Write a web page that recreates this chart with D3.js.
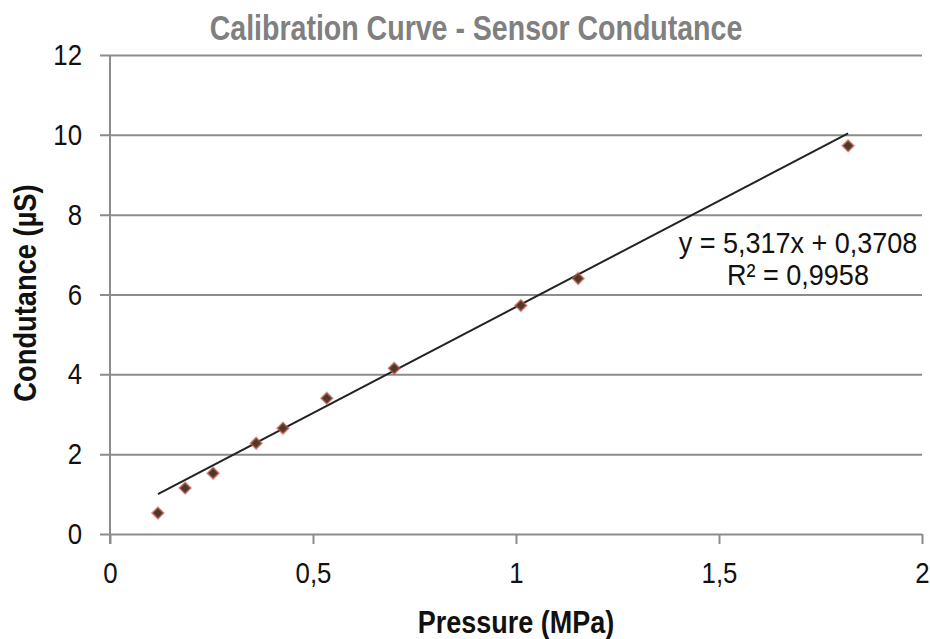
<!DOCTYPE html>
<html>
<head>
<meta charset="utf-8">
<script src="https://cdn.jsdelivr.net/npm/d3@7"></script>
<style>
  body { margin: 0; background: #fff; }
  svg { display: block; }
  text { font-family: "Liberation Sans", Arial, sans-serif; }
</style>
</head>
<body>
<svg id="chart" width="930" height="639"></svg>
<script>
// pressure (MPa) vs conductance (µS)
const pressure = [0.118, 0.185, 0.254, 0.360, 0.426, 0.534, 0.700, 1.012, 1.153, 1.818];
const conductance = [0.525, 1.15, 1.525, 2.275, 2.65, 3.4, 4.15, 5.725, 6.4, 9.725];
const xTicks = [0, 0.5, 1, 1.5, 2];
const yTicks = [0, 2, 4, 6, 8, 10, 12];
const slope = 5.317, intercept = 0.3708;
const eqLines = ["y = 5,317x + 0,3708", "R² = 0,9958"];

const plot = { left: 110, right: 922, top: 55, bottom: 534 };
const gridColor = "#8c8c8c";
const fmt = d => String(d).replace(".", ",");

// the original uses a narrow font: squeeze glyphs horizontally
function condense(sel, k) {
    sel.each(function () {
        const w = this.getComputedTextLength();
        d3.select(this)
            .attr("textLength", w * k)
            .attr("lengthAdjust", "spacingAndGlyphs");
    });
}

const svg = d3.select("#chart");

const x = d3.scaleLinear().domain([0, 2]).range([plot.left, plot.right]);
const y = d3.scaleLinear().domain([0, 12]).range([plot.bottom, plot.top]);

// horizontal gridlines + y ticks
const gy = svg.append("g")
    .attr("transform", `translate(${plot.left},0)`)
    .call(d3.axisLeft(y)
        .tickValues(yTicks)
        .tickSize(-(plot.right - plot.left))
        .tickPadding(28)
        .tickFormat(fmt));
gy.select(".domain").remove();
gy.selectAll(".tick line")
    .attr("x1", -10)
    .attr("stroke", gridColor)
    .attr("stroke-width", 2);
gy.selectAll(".tick text")
    .attr("font-family", null)
    .attr("font-size", 30)
    .attr("fill", "#111")
    .call(condense, 0.86);

// y axis vertical line
svg.append("line")
    .attr("x1", plot.left).attr("x2", plot.left)
    .attr("y1", plot.top).attr("y2", plot.bottom + 10)
    .attr("stroke", gridColor)
    .attr("stroke-width", 2);

// x axis ticks
const gx = svg.append("g")
    .attr("transform", `translate(0,${plot.bottom})`)
    .call(d3.axisBottom(x)
        .tickValues(xTicks)
        .tickSize(10)
        .tickPadding(18)
        .tickFormat(fmt));
gx.select(".domain").remove();
gx.selectAll(".tick line")
    .attr("stroke", gridColor)
    .attr("stroke-width", 2);
gx.selectAll(".tick text")
    .attr("font-family", null)
    .attr("font-size", 30)
    .attr("fill", "#111")
    .call(condense, 0.86);

// linear trendline over the data range
const xMin = d3.min(pressure), xMax = d3.max(pressure);
svg.append("line")
    .attr("x1", x(xMin)).attr("y1", y(slope * xMin + intercept))
    .attr("x2", x(xMax)).attr("y2", y(slope * xMax + intercept))
    .attr("stroke", "#222")
    .attr("stroke-width", 2);

// data markers (diamonds)
const diamond = d3.symbol().type(d3.symbolDiamond2 || d3.symbolDiamond).size(80);
svg.append("g")
    .selectAll("path")
    .data(pressure.map((p, i) => [p, conductance[i]]))
    .join("path")
    .attr("d", diamond)
    .attr("transform", d => `translate(${x(d[0])},${y(d[1])})`)
    .attr("fill", "#4b3a28")
    .attr("stroke", "#c8554f")
    .attr("stroke-opacity", 0.6)
    .attr("stroke-width", 2);

// equation label
svg.append("g")
    .selectAll("text")
    .data(eqLines)
    .join("text")
    .attr("x", 798)
    .attr("y", (d, i) => 253 + i * 32)
    .attr("text-anchor", "middle")
    .attr("font-size", 30)
    .attr("fill", "#111")
    .text(d => d)
    .call(condense, 0.9);

// title
svg.append("text")
    .attr("x", 476).attr("y", 40)
    .attr("text-anchor", "middle")
    .attr("font-size", 35)
    .attr("font-weight", "bold")
    .attr("fill", "#808080")
    .text("Calibration Curve - Sensor Condutance")
    .call(condense, 0.815);

// axis titles
svg.append("text")
    .attr("x", 516).attr("y", 633)
    .attr("text-anchor", "middle")
    .attr("font-size", 31)
    .attr("font-weight", "bold")
    .attr("fill", "#111")
    .text("Pressure (MPa)")
    .call(condense, 0.87);

svg.append("text")
    .attr("transform", "translate(36,293) rotate(-90)")
    .attr("text-anchor", "middle")
    .attr("font-size", 31)
    .attr("font-weight", "bold")
    .attr("fill", "#111")
    .text("Condutance (µS)")
    .call(condense, 0.88);
</script>
</body>
</html>
